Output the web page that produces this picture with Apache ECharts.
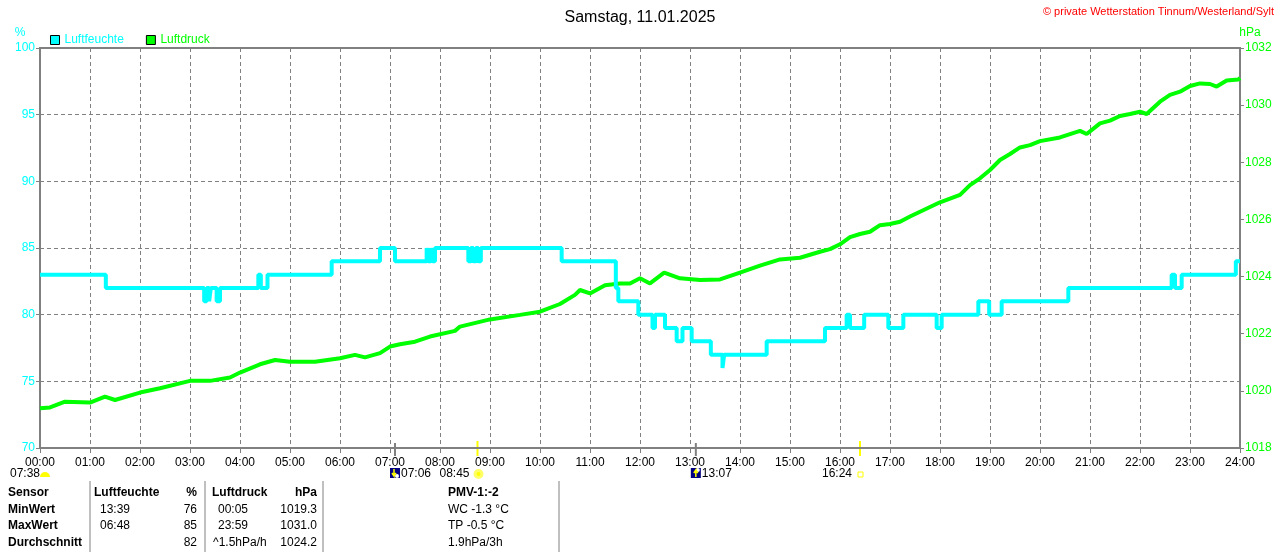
<!DOCTYPE html>
<html>
<head>
<meta charset="utf-8">
<script src="https://cdn.jsdelivr.net/npm/echarts@6/dist/echarts.min.js"></script>
<style>
    html, body { margin: 0; padding: 0; background: #fff; }
    #main { width: 1280px; height: 552px; }
</style>
</head>
<body>
<div id="main"></div>
<script>
    // Zeitachse in Minuten seit Mitternacht
    var hourLabels = ['00:00','01:00','02:00','03:00','04:00','05:00','06:00','07:00','08:00','09:00','10:00','11:00','12:00',
        '13:00','14:00','15:00','16:00','17:00','18:00','19:00','20:00','21:00','22:00','23:00','24:00'];

    // Luftfeuchte (%) - Stufenwerte [minute, wert]
    var humidity = [
        [0,83],[79,82],[197,81],[200,82],[203,81],[205,82],[212,81],[216,82],
        [262,83],[265,82],[273,83],[350,84],[408,85],[426,84],
        [464,85],[466,84],[469,85],[471,84],[474,85],
        [514,84],[517,85],[520,84],[523,85],[526,84],[529,85],
        [626,84],[691,82],[694,81],[718,80],[735,79],[738,80],[750,79],
        [764,78],[771,79],[782,78],[805,77],[819,76],[821,77],[872,78],
        [942,79],[968,80],[972,79],[989,80],[1018,79],[1036,80],[1076,79],[1082,80],
        [1126,81],[1139,80],[1154,81],[1234,82],[1358,83],[1362,82],[1370,83],[1435,84],[1440,84]
    ];

    // Luftdruck (hPa)
    var pressure = [
        [0,1019.39],[12,1019.42],[30,1019.62],[60,1019.59],[78,1019.80],[90,1019.68],[120,1019.94],
        [144,1020.09],[180,1020.35],[204,1020.35],[228,1020.47],[240,1020.64],[264,1020.93],[282,1021.08],
        [300,1021.02],[330,1021.02],[360,1021.14],[378,1021.26],[390,1021.17],[408,1021.32],[420,1021.55],
        [432,1021.63],[450,1021.72],[468,1021.90],[498,1022.10],[504,1022.25],[540,1022.50],[576,1022.66],
        [600,1022.77],[624,1023.04],[642,1023.36],[648,1023.53],[660,1023.41],[678,1023.70],[696,1023.76],
        [708,1023.76],[720,1023.94],[732,1023.76],[749,1024.14],[768,1023.94],[792,1023.88],[816,1023.90],
        [840,1024.14],[864,1024.38],[888,1024.60],[912,1024.66],[936,1024.87],[948,1024.96],[960,1025.13],
        [972,1025.38],[984,1025.49],[996,1025.57],[1008,1025.80],[1020,1025.84],[1032,1025.92],[1044,1026.10],
        [1056,1026.27],[1080,1026.60],[1104,1026.86],[1116,1027.20],[1128,1027.44],[1140,1027.73],[1152,1028.08],
        [1164,1028.29],[1176,1028.52],[1188,1028.60],[1200,1028.74],[1224,1028.87],[1248,1029.10],[1256,1028.99],
        [1272,1029.36],[1284,1029.46],[1296,1029.62],[1308,1029.69],[1320,1029.77],[1328,1029.69],[1344,1030.12],
        [1356,1030.36],[1368,1030.47],[1380,1030.67],[1392,1030.76],[1404,1030.74],[1412,1030.65],[1424,1030.86],
        [1438,1030.90],[1440,1030.95]
    ];

    // Sonne / Mond
    var dayLength = '07:38';
    var sunRise = 525, sunSet = 984;       // 08:45, 16:24
    var moonSet = 426, moonRise = 787;     // 07:06, 13:07

    // Tabelle unten
    var tableHead = ['Sensor', 'Luftfeuchte', '%', 'Luftdruck', 'hPa', 'PMV-1:-2'];
    var tableRows = [
        ['MinWert', '13:39', '76', '00:05', '1019.3', 'WC -1.3 °C'],
        ['MaxWert', '06:48', '85', '23:59', '1031.0', 'TP -0.5 °C'],
        ['Durchschnitt', '', '82', '^1.5hPa/h', '1024.2', '1.9hPa/3h']
    ];

    var cyan = '#00ffff', green = '#00ff00', gray = '#808080';
    var font = 'Liberation Sans';

    var myChart = echarts.init(document.getElementById('main'));

    var option = {
        animation: false,
        backgroundColor: '#fff',
        title: {
            text: 'Samstag, 11.01.2025',
            left: 'center',
            top: 5,
            textStyle: {fontFamily: font, fontSize: 16, fontWeight: 'normal', color: '#000'}
        },
        legend: {
            left: 45,
            top: 29,
            icon: 'rect',
            itemWidth: 9,
            itemHeight: 9,
            itemGap: 22,
            itemStyle: {borderColor: '#000', borderWidth: 1},
            textStyle: {fontFamily: font, fontSize: 12},
            data: [
                {name: 'Luftfeuchte', textStyle: {color: cyan}},
                {name: 'Luftdruck', textStyle: {color: green}}
            ]
        },
        grid: {
            left: 40, right: 40, top: 48, bottom: 104,
            outerBoundsMode: 'none',
            show: true,
            borderColor: gray,
            borderWidth: 2
        },
        xAxis: {
            type: 'value',
            min: 0,
            max: 1440,
            interval: 60,
            axisLine: {show: true, lineStyle: {color: gray, width: 2}},
            axisTick: {show: true, length: 5, lineStyle: {color: gray}},
            axisLabel: {
                color: '#000', fontFamily: font, fontSize: 12, margin: 9,
                formatter: function (v) { return hourLabels[Math.round(v / 60)]; }
            },
            splitLine: {show: true, lineStyle: {color: gray, type: [4, 3], width: 1}}
        },
        yAxis: [
            {
                type: 'value',
                min: 70, max: 100, interval: 5,
                axisLine: {show: true, lineStyle: {color: gray, width: 2}},
                axisTick: {show: true, length: 4, lineStyle: {color: gray}},
                axisLabel: {color: cyan, fontFamily: font, fontSize: 12, margin: 5,
                    formatter: function (v) { return String(v); }},
                splitLine: {show: true, lineStyle: {color: gray, type: [4, 3], width: 1}}
            },
            {
                type: 'value',
                min: 1018, max: 1032, interval: 2,
                axisLine: {show: true, lineStyle: {color: gray, width: 2}},
                axisTick: {show: true, length: 4, lineStyle: {color: gray}},
                axisLabel: {color: green, fontFamily: font, fontSize: 12, margin: 5,
                    formatter: function (v) { return String(v); }},
                splitLine: {show: false}
            }
        ],
        series: [
            {
                name: 'Luftdruck',
                type: 'line',
                yAxisIndex: 1,
                data: pressure,
                showSymbol: false,
                color: green,
                lineStyle: {color: green, width: 4}
            },
            {
                name: 'Luftfeuchte',
                type: 'line',
                yAxisIndex: 0,
                step: 'end',
                data: humidity,
                showSymbol: false,
                color: cyan,
                lineStyle: {color: cyan, width: 4}
            }
        ]
    };

    myChart.setOption(option);

    // Zusaetzliche Elemente: Einheiten, Copyright, Sonne/Mond, Tabelle
    var px = function (m) { return myChart.convertToPixel({xAxisIndex: 0}, m); };
    var txt = function (x, y, s, opt) {
        opt = opt || {};
        return {
            type: 'text', x: x, y: y, silent: true,
            style: {
                text: s, fill: opt.color || '#000', font: (opt.bold ? 'bold ' : '') + (opt.size || 12) + 'px "' + font + '"',
                align: opt.align || 'left', verticalAlign: 'middle'
            }
        };
    };

    var g = [];
    g.push(txt(20, 33, '%', {color: cyan, align: 'center'}));
    g.push(txt(1250, 33, 'hPa', {color: green, align: 'center'}));
    g.push(txt(1274, 12, '© private Wetterstation Tinnum/Westerland/Sylt', {color: '#ff0000', align: 'right', size: 11}));

    // Sonne / Mond Markierungen
    [sunRise, sunSet].forEach(function (m) {
        g.push({type: 'line', silent: true, shape: {x1: px(m), y1: 441, x2: px(m), y2: 456}, style: {stroke: '#ffff00', lineWidth: 2}});
    });
    [moonSet, moonRise].forEach(function (m) {
        g.push({type: 'line', silent: true, shape: {x1: px(m), y1: 443, x2: px(m), y2: 456}, style: {stroke: gray, lineWidth: 2}});
    });
    var rowY = 474;
    g.push(txt(10, rowY, dayLength));
    g.push({type: 'sector', silent: true, shape: {cx: 45, cy: 477, r0: 0, r: 5, startAngle: Math.PI, endAngle: 2 * Math.PI}, style: {fill: '#ffff00'}});
    // Mond
    [[moonSet, '07:06', 1], [moonRise, '13:07', -1]].forEach(function (d) {
        var x = px(d[0]);
        g.push({type: 'rect', silent: true, shape: {x: x - 5, y: 468, width: 10, height: 10}, style: {fill: '#000080'}});
        g.push({type: 'circle', silent: true, shape: {cx: x + 2, cy: d[2] > 0 ? 476 : 470, r: 2}, style: {fill: '#fff'}});
        g.push({type: 'polyline', silent: true, shape: {points: d[2] > 0 ? [[x - 1, 469], [x - 1, 476], [x - 3, 473], [x - 1, 476], [x + 1, 473]] : [[x, 477], [x, 470], [x - 2, 473], [x, 470], [x + 2, 473]]}, style: {stroke: '#ffff00', lineWidth: 1.5}});
        g.push(txt(x + 6, rowY, d[1]));
    });
    // Sonnenaufgang
    var sx = px(sunRise);
    g.push(txt(sx - 8, rowY, '08:45', {align: 'right'}));
    g.push({type: 'circle', silent: true, shape: {cx: sx + 1, cy: 474, r: 3.5}, style: {fill: '#ffff00', stroke: '#ffff66', lineWidth: 3}});
    // Sonnenuntergang
    var ux = px(sunSet);
    g.push(txt(ux - 8, rowY, '16:24', {align: 'right'}));
    g.push({type: 'rect', silent: true, shape: {x: ux - 2, y: 472, width: 5, height: 5}, style: {fill: 'none', stroke: '#ffff00', lineWidth: 1}});

    // Tabelle
    [90, 205, 323, 559].forEach(function (x) {
        g.push({type: 'line', silent: true, shape: {x1: x, y1: 481, x2: x, y2: 552}, style: {stroke: gray, lineWidth: 1}});
    });
    var colX = [8, 94, 197, 212, 317, 448];
    var colAlign = ['left', 'left', 'right', 'left', 'right', 'left'];
    var rowYs = [493, 510, 526, 543];
    tableHead.forEach(function (s, i) {
        g.push(txt(colX[i], rowYs[0], s, {bold: true, align: colAlign[i]}));
    });
    var valX = [8, 100, 197, 218, 317, 448];
    tableRows.forEach(function (row, r) {
        row.forEach(function (s, i) {
            if (i === 3 && s.charAt(0) === '^') {
                g.push(txt(213, rowYs[r + 1], s));
            } else {
                g.push(txt(valX[i], rowYs[r + 1], s, {bold: i === 0, align: colAlign[i]}));
            }
        });
    });

    myChart.setOption({graphic: {elements: g}});
</script>
</body>
</html>
